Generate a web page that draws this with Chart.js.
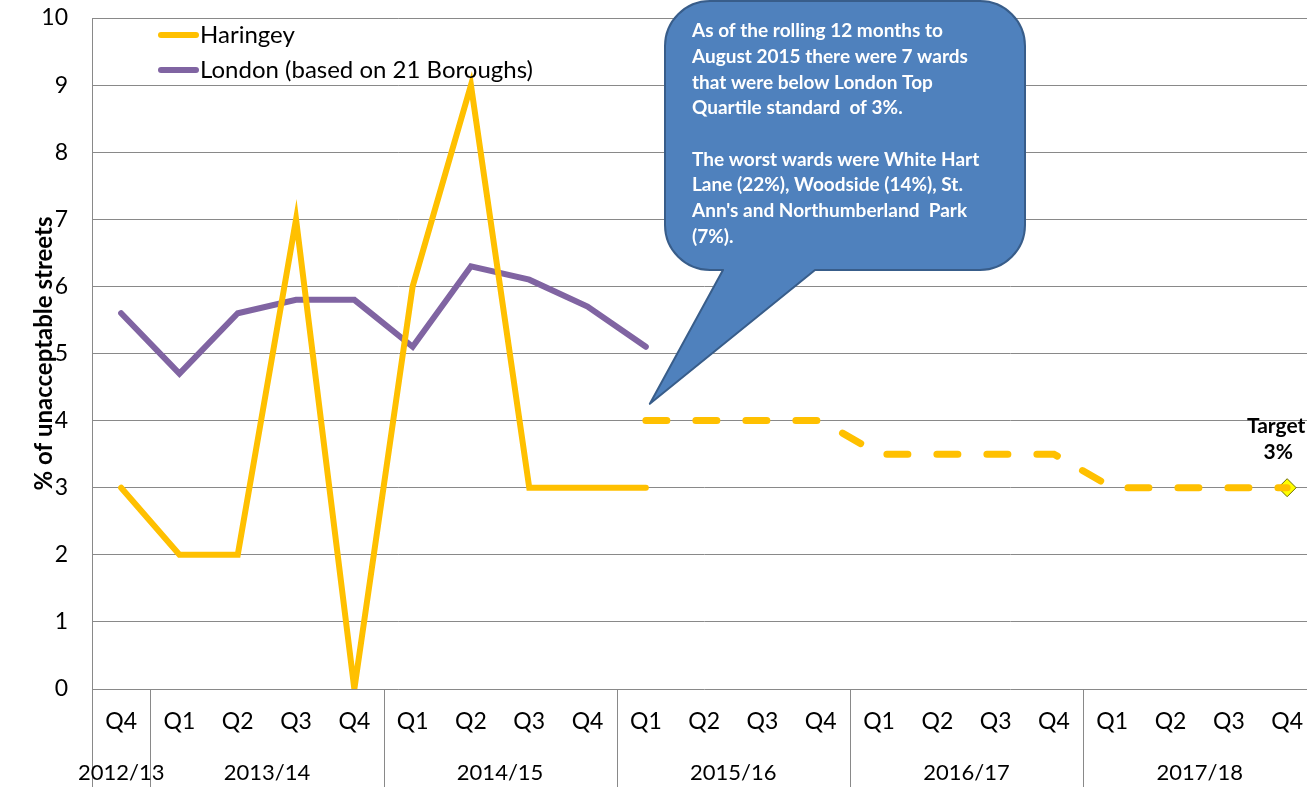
<!DOCTYPE html>
<html><head><meta charset="utf-8">
<script src="https://cdn.jsdelivr.net/npm/chart.js@4/dist/chart.umd.min.js"></script>
<style>html,body{margin:0;padding:0;background:#fff;overflow:hidden}#wrap{width:1316px;height:787px}canvas{display:block}</style>
</head><body><div id="wrap"><canvas id="c" width="1316" height="787" style="width:1316px;height:787px"></canvas></div>
<script>
const quarters = ['Q4','Q1','Q2','Q3','Q4','Q1','Q2','Q3','Q4','Q1','Q2','Q3','Q4','Q1','Q2','Q3','Q4','Q1','Q2','Q3','Q4'];
const years = ['2012/13','2013/14','2014/15','2015/16','2016/17','2017/18'];
const yearSpans = [1,4,4,4,4,4];
const haringey = [3,2,2,7,0,6,9,3,3,3,null,null,null,null,null,null,null,null,null,null,null];
const haringeyPlan = [null,null,null,null,null,null,null,null,null,4,4,4,4,3.5,3.5,3.5,3.5,3,3,3,3];
const london = [5.6,4.7,5.6,5.8,5.8,5.1,6.3,6.1,5.7,5.1,null,null,null,null,null,null,null,null,null,null,null];
const target = [null,null,null,null,null,null,null,null,null,null,null,null,null,null,null,null,null,null,null,null,3];
const calloutLines = ['As of the rolling 12 months to','August 2015 there were 7 wards','that were below London Top','Quartile standard  of 3%.','','The worst wards were White Hart','Lane (22%), Woodside (14%), St.','Ann\'s and Northumberland  Park','(7%).'];
const FONT = "Lato, 'Liberation Sans', Arial, sans-serif";

const extras = {
  id: 'extras',
  afterDraw(chart) {
    const {ctx, chartArea: a, scales: {x, y}} = chart;
    const H = chart.height;
    ctx.save();
    ctx.strokeStyle = '#898989'; ctx.lineWidth = 1;
    const lines = [a.left];
    let start = 0;
    const centers = [];
    yearSpans.forEach((n, i) => {
      const p0 = x.getPixelForValue(start), p1 = x.getPixelForValue(start + n - 1);
      centers.push((p0 + p1) / 2);
      if (i > 0) lines.push((x.getPixelForValue(start - 1) + p0) / 2);
      start += n;
    });
    lines.forEach(px => {
      const xx = Math.round(px) + 0.5;
      ctx.beginPath(); ctx.moveTo(xx, a.bottom); ctx.lineTo(xx, H); ctx.stroke();
    });
    ctx.fillStyle = '#000'; ctx.font = '22px ' + FONT;
    ctx.textAlign = 'center'; ctx.textBaseline = 'middle';
    years.forEach((t, i) => ctx.fillText(t, centers[i], a.bottom + 84));

    const leg = [{t: 'Haringey', c: '#FFC000'}, {t: 'London (based on 21 Boroughs)', c: '#8064A2'}];
    leg.forEach((l, i) => {
      const yy = 35 + i * 35;
      ctx.strokeStyle = l.c; ctx.lineWidth = 6; ctx.lineCap = 'round';
      ctx.beginPath(); ctx.moveTo(161, yy); ctx.lineTo(196, yy); ctx.stroke();
      ctx.fillStyle = '#000'; ctx.textAlign = 'left'; ctx.font = '24px ' + FONT;
      ctx.fillText(l.t, 200, yy);
    });

    const tipX = x.getPixelForValue(9) + 4, tipY = y.getPixelForValue(4.25);
    const L = 665, T = 1, R = 1025, B = 270, r = 45, b1 = 723, b2 = 815;
    ctx.beginPath();
    ctx.moveTo(L + r, T); ctx.lineTo(R - r, T); ctx.arcTo(R, T, R, T + r, r);
    ctx.lineTo(R, B - r); ctx.arcTo(R, B, R - r, B, r);
    ctx.lineTo(b2, B); ctx.lineTo(tipX, tipY); ctx.lineTo(b1, B);
    ctx.lineTo(L + r, B); ctx.arcTo(L, B, L, B - r, r);
    ctx.lineTo(L, T + r); ctx.arcTo(L, T, L + r, T, r); ctx.closePath();
    ctx.fillStyle = '#4F81BD'; ctx.fill();
    ctx.strokeStyle = '#385D8A'; ctx.lineWidth = 2; ctx.lineJoin = 'round'; ctx.stroke();
    ctx.fillStyle = '#fff'; ctx.font = 'bold 19px ' + FONT; ctx.textAlign = 'left';
    calloutLines.forEach((t, i) => ctx.fillText(t, 692, 31 + i * 25.7));

    const tx = x.getPixelForValue(20), ty = y.getPixelForValue(3);
    ctx.fillStyle = '#000'; ctx.font = 'bold 21px ' + FONT; ctx.textAlign = 'center';
    ctx.fillText('Target', tx - 11, ty - 61);
    ctx.fillText('3%', tx - 9, ty - 35);
    ctx.restore();
  }
};

new Chart(document.getElementById('c'), {
  type: 'line',
  data: {
    labels: quarters,
    datasets: [
      {label: 'Haringey', data: haringey, borderColor: '#FFC000', borderWidth: 6, pointRadius: 0, tension: 0, borderCapStyle: 'round'},
      {label: 'London (based on 21 Boroughs)', data: london, borderColor: '#8064A2', borderWidth: 6, pointRadius: 0, tension: 0, borderCapStyle: 'round'},
      {label: 'Haringey plan', data: haringeyPlan, borderColor: '#FFC000', borderWidth: 7, borderDash: [21, 29], borderCapStyle: 'round', pointRadius: 0, tension: 0},
      {label: 'Target', data: target, showLine: false, pointStyle: 'rectRot', pointRadius: 9, pointBackgroundColor: '#FFFF00', pointBorderColor: '#6b6b00', pointBorderWidth: 1}
    ]
  },
  options: {
    responsive: false,
    animation: false,
    layout: {padding: {top: 18, right: 0, left: 0, bottom: 0}},
    plugins: {legend: {display: false}, tooltip: {enabled: false}},
    scales: {
      x: {
        offset: true,
        grid: {display: false, drawTicks: false},
        border: {display: false},
        ticks: {color: '#000', font: {size: 23, family: FONT}, padding: 19, maxRotation: 0, autoSkip: false},
        afterFit(s) { s.height = 98; s.paddingLeft = 0; s.paddingRight = 0; }
      },
      y: {
        min: 0, max: 10,
        ticks: {stepSize: 1, color: '#000', font: {size: 23, family: FONT}, padding: 24},
        grid: {color: '#898989', lineWidth: 1, drawTicks: false},
        border: {display: true, color: '#898989', width: 1},
        title: {display: true, text: '% of unacceptable streets', color: '#000', font: {size: 24, weight: 'bold', family: FONT}, padding: {top: 30, bottom: 0}},
        afterFit(s) { s.width = 92; s.paddingTop = 0; s.paddingBottom = 0; }
      }
    }
  },
  plugins: [extras, {
    id: 'widen',
    afterLayout(chart) {
      const a = chart.chartArea;
      const want = 92 + 21 * 58.3;
      if (a.right < want) {
        a.right = want; a.width = a.right - a.left;
        const x = chart.scales.x;
        x.right = want; x.width = x.right - x.left;
        x.configure();
        const y = chart.scales.y;
        y.configure();
      }
    }
  }]
});
</script></body></html>
